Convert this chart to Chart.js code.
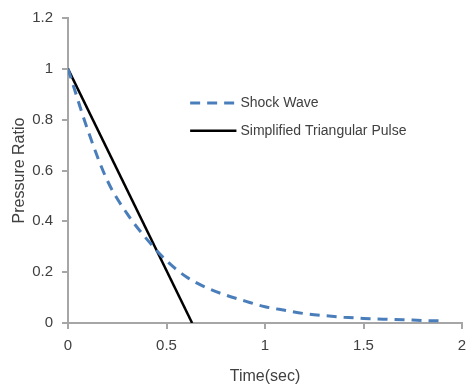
<!DOCTYPE html>
<html>
<head>
<meta charset="utf-8">
<title>Pressure Ratio vs Time</title>
<script src="https://cdn.jsdelivr.net/npm/chart.js"></script>
<style>
  html, body { margin: 0; padding: 0; background: #fff; }
  #chart { display: block; }
</style>
</head>
<body>
<canvas id="chart" width="467" height="390"></canvas>
<script>
// values
const shockTime = [0, 0.1, 0.2, 0.3, 0.4, 0.5, 0.6, 0.7, 0.8, 0.9, 1.0, 1.1, 1.2, 1.3, 1.4, 1.5, 1.6, 1.7, 1.8, 1.9];
const shockRatio = [1, 0.76, 0.56, 0.43, 0.33, 0.245, 0.182, 0.14, 0.11, 0.086, 0.064, 0.05, 0.037, 0.029, 0.023, 0.018, 0.015, 0.013, 0.01, 0.008];
const pulseTime = [0, 0.63];
const pulseRatio = [1, 0];
const xTicks = [0, 0.5, 1, 1.5, 2];
const yTicks = [0, 0.2, 0.4, 0.6, 0.8, 1, 1.2];

const FONT = "'Liberation Sans', 'Open Sans', sans-serif";
const TEXT = '#404040';
const AXIS = '#a6a6a6';

const toPoints = (xs, ys) => xs.map((x, i) => ({ x: x, y: ys[i] }));

// legend drawn inside the plot area, like the original
const insideLegend = {
  id: 'insideLegend',
  afterDraw(chart) {
    const ctx = chart.ctx;
    const sx = chart.scales.x;
    const sy = chart.scales.y;
    const x0 = sx.getPixelForValue(0.62);
    const x1 = sx.getPixelForValue(0.855);
    const rows = [sy.getPixelForValue(0.866), sy.getPixelForValue(0.756)];
    ctx.save();
    ctx.font = '14px ' + FONT;
    ctx.fillStyle = TEXT;
    ctx.textBaseline = 'middle';
    chart.data.datasets.forEach((ds, i) => {
      const y = rows[i];
      ctx.beginPath();
      ctx.strokeStyle = ds.borderColor;
      ctx.lineWidth = ds.borderWidth;
      ctx.setLineDash(ds.borderDash || []);
      ctx.moveTo(x0, y);
      ctx.lineTo(x1, y);
      ctx.stroke();
      ctx.setLineDash([]);
      ctx.fillText(ds.label, x1 + 4, y);
    });
    ctx.restore();
  }
};

new Chart(document.getElementById('chart').getContext('2d'), {
  type: 'scatter',
  data: {
    datasets: [
      {
        label: 'Shock Wave',
        data: toPoints(shockTime, shockRatio),
        showLine: true,
        borderColor: '#4a7ebb',
        borderWidth: 3,
        borderDash: [10, 7],
        pointRadius: 0,
        tension: 0.4,
        cubicInterpolationMode: 'monotone'
      },
      {
        label: 'Simplified Triangular Pulse',
        data: toPoints(pulseTime, pulseRatio),
        showLine: true,
        borderColor: '#000000',
        borderWidth: 2.5,
        pointRadius: 0
      }
    ]
  },
  options: {
    responsive: false,
    animation: false,
    layout: { padding: { top: 16, right: 5, left: 6, bottom: 0 } },
    plugins: {
      legend: { display: false },
      tooltip: { enabled: false }
    },
    scales: {
      x: {
        type: 'linear',
        min: 0,
        max: 2,
        afterBuildTicks: (axis) => { axis.ticks = xTicks.map(v => ({ value: v })); },
        afterFit: (axis) => { axis.height = 67; axis.paddingRight = 0; axis.paddingLeft = 0; },
        border: { color: AXIS, width: 2 },
        grid: { drawOnChartArea: false, drawTicks: true, tickLength: 6, color: AXIS, lineWidth: 2 },
        ticks: { color: TEXT, font: { family: FONT, size: 15 }, padding: 8, callback: (v) => String(v) },
        title: { display: true, text: 'Time(sec)', color: TEXT, font: { family: FONT, size: 16 }, padding: { top: 8 } }
      },
      y: {
        min: 0,
        max: 1.2,
        afterBuildTicks: (axis) => { axis.ticks = yTicks.map(v => ({ value: v })); },
        afterFit: (axis) => { axis.width = 62; },
        border: { color: AXIS, width: 2 },
        grid: { drawOnChartArea: false, drawTicks: true, tickLength: 6, color: AXIS, lineWidth: 2 },
        ticks: { color: TEXT, font: { family: FONT, size: 15 }, padding: 9, callback: (v) => String(v) },
        title: { display: true, text: 'Pressure Ratio', color: TEXT, font: { family: FONT, size: 16 }, padding: { bottom: 0 } }
      }
    }
  },
  plugins: [insideLegend]
});
</script>
</body>
</html>
